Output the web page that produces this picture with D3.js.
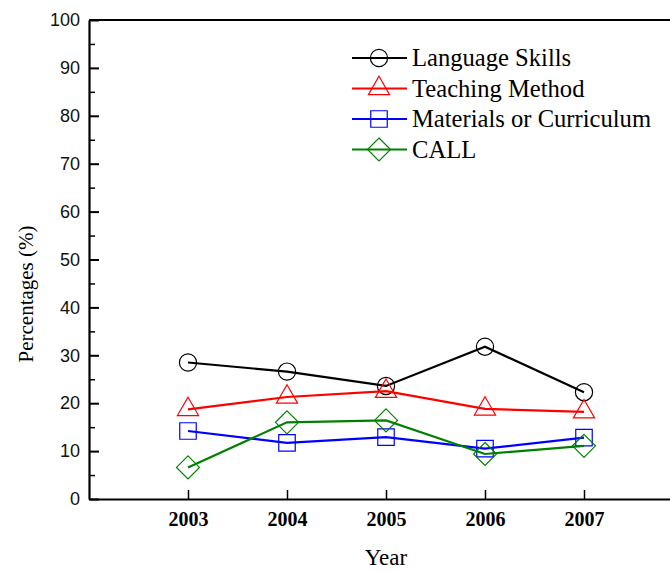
<!DOCTYPE html>
<html>
<head>
<meta charset="utf-8">
<script src="https://cdn.jsdelivr.net/npm/d3@7"></script>
<style>
  body { margin: 0; background: #fff; }
  svg { display: block; }
</style>
</head>
<body>
<svg width="670" height="571"></svg>
<script>
var years = [2003, 2004, 2005, 2006, 2007];
var languageSkills = [28.5, 26.6, 23.6, 31.8, 22.3];
var teachingMethod = [18.7, 21.3, 22.5, 18.8, 18.2];
var materials = [14.2, 11.7, 12.9, 10.5, 12.8];
var call = [6.6, 16.0, 16.4, 9.4, 11.1];
var seriesNames = ["Language Skills", "Teaching Method", "Materials or Curriculum", "CALL"];
var yTicks = [0, 10, 20, 30, 40, 50, 60, 70, 80, 90, 100];

var svg = d3.select("svg");
// plot box (right edge falls outside the picture, as in the original)
var plotLeft = 89, plotTop = 20, plotBottom = 499, plotRight = 683;

var x = d3.scaleLinear().domain([2002, 2008]).range([plotLeft, plotRight]);
var y = d3.scaleLinear().domain([0, 100]).range([plotBottom, plotTop]);

var series = [
  { name: seriesNames[0], values: languageSkills, color: "#000000", shape: "circle" },
  { name: seriesNames[1], values: teachingMethod, color: "#ff0000", shape: "triangle" },
  { name: seriesNames[2], values: materials, color: "#0000ff", shape: "square" },
  { name: seriesNames[3], values: call, color: "#008000", shape: "diamond" }
];

function markerPath(shape) {
  if (shape == "circle") return d3.symbol().type(d3.symbolCircle).size(Math.PI * 8.6 * 8.6)();
  if (shape == "triangle") return d3.symbol().type(d3.symbolTriangle).size(195)();
  if (shape == "square") return d3.symbol().type(d3.symbolSquare).size(272)();
  // diamond: square turned 45 degrees
  var h = 11.5;
  return "M0," + (-h) + "L" + h + ",0L0," + h + "L" + (-h) + ",0Z";
}

// minor y ticks
svg.append("g")
  .attr("transform", "translate(" + plotLeft + ",0)")
  .call(d3.axisLeft(y).tickValues(d3.range(5, 100, 10)).tickSizeInner(-6).tickSizeOuter(0).tickFormat(""))
  .call(g => g.select(".domain").remove())
  .selectAll("line").attr("stroke", "#000").attr("stroke-width", 1.5);

// major y axis
var yAxis = svg.append("g")
  .attr("transform", "translate(" + plotLeft + ",0)")
  .call(d3.axisLeft(y).tickValues(yTicks).tickSizeInner(-10).tickSizeOuter(0).tickPadding(9));
yAxis.select(".domain").attr("stroke-width", 2.2);
yAxis.selectAll("line").attr("stroke-width", 2);
yAxis.selectAll("text")
  .attr("font-family", "Liberation Sans, Arial, sans-serif")
  .attr("font-size", 18)
  .attr("fill", "#111");

// x axis
var xAxis = svg.append("g")
  .attr("transform", "translate(0," + plotBottom + ")")
  .call(d3.axisBottom(x).tickValues(years).tickSizeInner(-9).tickSizeOuter(0).tickPadding(13).tickFormat(d3.format("d")));
xAxis.select(".domain").attr("stroke-width", 2.2);
xAxis.selectAll("line").attr("stroke-width", 1.5);
xAxis.selectAll("text")
  .attr("font-family", "Liberation Serif, Times New Roman, serif")
  .attr("font-weight", "bold")
  .attr("font-size", 20)
  .attr("fill", "#000");

// top frame line
svg.append("line")
  .attr("x1", x(2002)).attr("x2", x(2008))
  .attr("y1", y(100)).attr("y2", y(100))
  .attr("stroke", "#000").attr("stroke-width", 2.2);

// axis titles
svg.append("text")
  .attr("transform", "translate(33,294) rotate(-90)")
  .attr("text-anchor", "middle")
  .attr("font-family", "Liberation Serif, Times New Roman, serif")
  .attr("font-size", 21)
  .text("Percentages (%)");

svg.append("text")
  .attr("x", x(2005)).attr("y", 565)
  .attr("text-anchor", "middle")
  .attr("font-family", "Liberation Serif, Times New Roman, serif")
  .attr("font-size", 23)
  .text("Year");

// series
var line = d3.line()
  .x(function(d, i) { return x(years[i]); })
  .y(function(d) { return y(d); });

series.forEach(function(s) {
  var g = svg.append("g");
  g.selectAll("path.mk")
    .data(s.values)
    .enter().append("path")
    .attr("class", "mk")
    .attr("d", markerPath(s.shape))
    .attr("transform", function(d, i) { return "translate(" + x(years[i]) + "," + y(d) + ")"; })
    .attr("fill", "none")
    .attr("stroke", s.color)
    .attr("stroke-width", 1.2);
  g.append("path")
    .datum(s.values)
    .attr("d", line)
    .attr("fill", "none")
    .attr("stroke", s.color)
    .attr("stroke-width", 2.2);
});

// legend
var legend = svg.append("g").attr("transform", "translate(352,58)");
var rows = legend.selectAll("g")
  .data(series)
  .enter().append("g")
  .attr("transform", function(d, i) { return "translate(0," + (i * 30.5) + ")"; });
rows.append("line")
  .attr("x1", 0).attr("x2", 55)
  .attr("stroke", function(d) { return d.color; })
  .attr("stroke-width", 2.2);
rows.append("path")
  .attr("d", function(d) { return markerPath(d.shape); })
  .attr("transform", "translate(27,0)")
  .attr("fill", "none")
  .attr("stroke", function(d) { return d.color; })
  .attr("stroke-width", 1.2);
rows.append("text")
  .attr("x", 60)
  .attr("dy", "0.33em")
  .attr("font-family", "Liberation Serif, Times New Roman, serif")
  .attr("font-size", 24.6)
  .text(function(d) { return d.name; });
</script>
</body>
</html>
